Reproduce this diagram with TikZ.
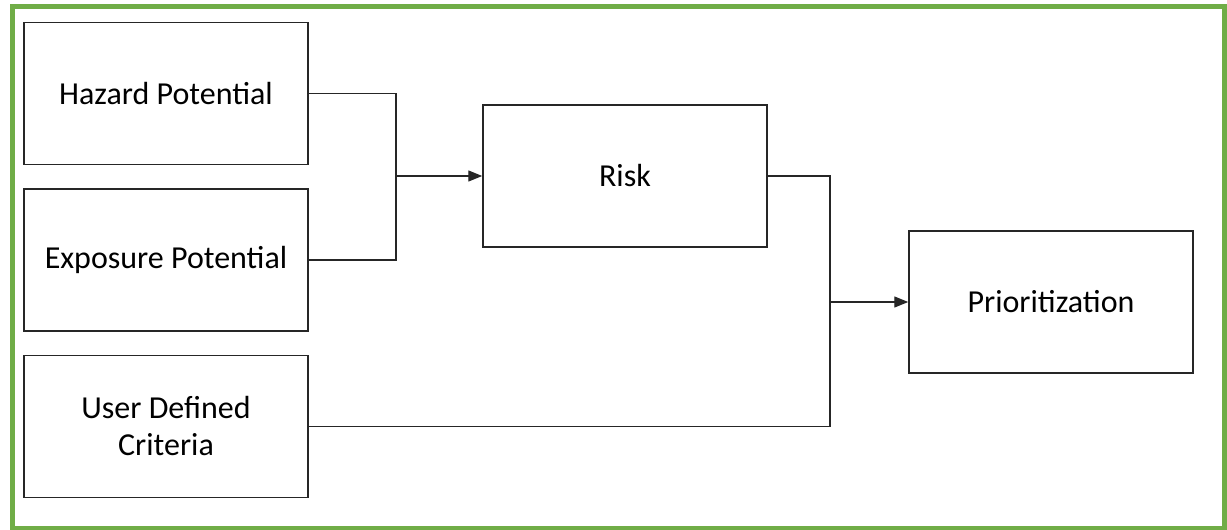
\documentclass[tikz,border=0pt]{standalone}
\usepackage{fontspec}
\setmainfont{Carlito}
\usetikzlibrary{arrows.meta}
\definecolor{framegreen}{RGB}{112,173,71}
\begin{document}
\begin{tikzpicture}[x=1pt,y=-1pt,
  blockbox/.style={draw=black!85, line width=1.5pt, minimum width=284pt, minimum height=142pt,
    inner sep=0pt, align=center, font=\fontsize{32}{37}\selectfont},
  link/.style={draw=black!85, line width=1.4pt},
  flow/.style={link, -{Triangle[length=14pt,width=11pt]}}]
  \useasboundingbox (0,0) rectangle (1227,530);
  \fill[white] (0,0) rectangle (1227,530);
  % outer frame
  \draw[framegreen, line width=5pt] (12,6.5) rectangle (1224.5,528);

  % input factors
  \node[blockbox] (haz) at (166,93.5) {Hazard Potential};
  \node[blockbox] (exp) at (166,260) {Exposure Potential};
  \node[blockbox] (usr) at (166,426.5) {User Defined\\Criteria};
  % derived results
  \node[blockbox] (risk) at (625,176) {Risk};
  \node[blockbox] (prio) at (1051,302) {Prioritization};

  % junction points
  \coordinate (j1) at (396,176);
  \coordinate (j2) at (830,302);

  \draw[link] (haz.east) -| (j1) |- (exp.east);
  \draw[flow] (j1) -- (risk.west);
  \draw[link] (risk.east) -| (j2) |- (usr.east);
  \draw[flow] (j2) -- (prio.west);
\end{tikzpicture}
\end{document}
